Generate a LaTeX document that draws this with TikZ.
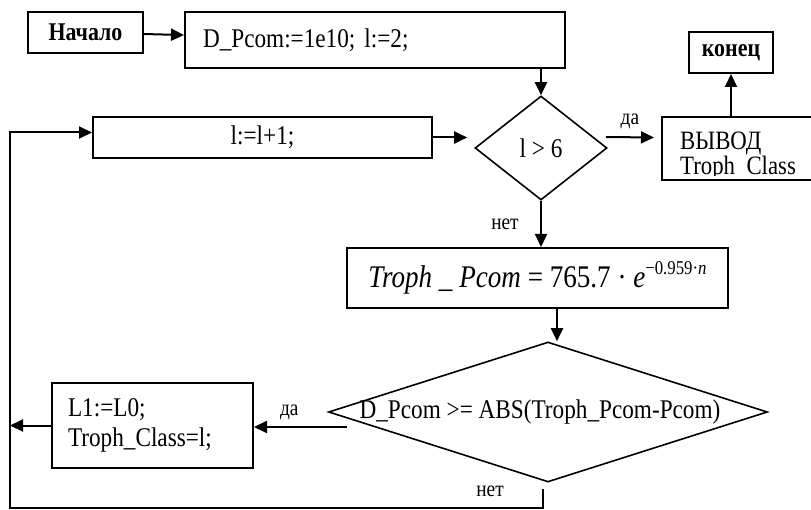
\documentclass[tikz,border=0pt]{standalone}
\usepackage{fontspec}
\setmainfont{Liberation Serif}[FakeStretch=0.86]
\usetikzlibrary{shapes.geometric,arrows.meta}

\begin{document}
\begin{tikzpicture}[x=1pt,y=-1pt,
    box/.style={draw,line width=2pt,inner sep=0pt},
    cond/.style={draw,diamond,line width=1.6pt,inner sep=0pt},
    arr/.style={line width=2pt,-{Triangle[length=13pt,width=12pt]}},
    lbl/.style={font=\fontsize{22.5}{24}\selectfont},
    font=\fontsize{27}{30}\selectfont]
    \clip (0,0) rectangle (811,510);

    %Start
    \node[box,minimum width=115,minimum height=41,font=\fontsize{25.5}{28}\selectfont\bfseries] (start) at (85.5,32.5) {Начало};
    \node[box,minimum height=56,text width=344,inner xsep=18,align=left] (init) at (375,40) {D\_Pcom:=1e10; l:=2;};
    \draw[arr] (start) -- (init);

    %Condition l > 6
    \node[cond,minimum width=132,minimum height=104] (cond1) at (541,148) {l > 6};
    \draw[arr] (init.south -| cond1.north) -- (cond1.north);

    %Loop step
    \node[box,minimum width=339,minimum height=41] (incr) at (262.5,137.5) {l:=l+1;};
    \draw[arr] (incr.east) -- ([xshift=-7]incr.east -| cond1.west);

    %Output and end
    \node[box,minimum width=168,minimum height=63] (out) at (746,148.5) {};
    \begin{scope}[font=\fontsize{26.5}{28}\selectfont]
      \clip (out.north west) rectangle ([yshift=5.5]out.south east);
      \node[anchor=base west,inner sep=0pt] (outtext1) at (680,150) {ВЫВОД};
      \node[anchor=base west,inner sep=0pt] (outtext2) at (680,175) {Troph\_Class};
    \end{scope}
    \node[box,minimum width=84,minimum height=41,font=\fontsize{25.5}{28}\selectfont\bfseries] (end) at (731,52.5) {конец};
    \draw[arr] ([xshift=-2,yshift=11]cond1.east) -- node[lbl,above=4pt] (yes1) {да} ([xshift=-7,yshift=11]out.west);
    \draw[arr] (out.north -| end) -- (end.south);

    %Formula
    \node[box,minimum width=381,minimum height=60,font=\fontsize{31.5}{32}\selectfont] (formula) at (537.5,278)
      {\textit{Troph \_ Pcom} = 765.7 · \textit{e}\raisebox{13pt}{\fontsize{19.5}{20}\selectfont −0.959·\textit{n}}};
    \draw[arr] (cond1.south) -- node[lbl,left=18pt] (no1) {нет} (cond1.south |- formula.north);

    %Condition on D_Pcom
    \node[cond,minimum width=439,minimum height=140,label={[xshift=-8pt]center:D\_Pcom >= ABS(Troph\_Pcom-Pcom)}] (cond2) at (548,412) {};
    \draw[arr] ([xshift=19.5]formula.south) -- ([xshift=19.5]formula.south |- cond2.north);

    %New class
    \node[box,minimum width=201,minimum height=85,text width=169,inner xsep=16,align=left] (assign) at (152.5,425.5) {L1:=L0;\\Troph\_Class=l;};
    \coordinate (yes2) at ([xshift=19,yshift=-15]cond2.west);
    \draw[arr] (yes2) -- node[lbl,pos=0.62,above=3pt] (yes2lbl) {да} (yes2 -| assign.east);

    %Back to loop
    \coordinate (loop) at (10,508);
    \coordinate (no2) at ([xshift=-5,yshift=-6]cond2.south);
    \draw[arr] (assign.west) -- (assign.west -| loop);
    \draw[arr] (no2) |- (loop) |- ([yshift=5]incr.west);
    \node[lbl] (no2lbl) at (490,491) {нет};
\end{tikzpicture}
\end{document}
